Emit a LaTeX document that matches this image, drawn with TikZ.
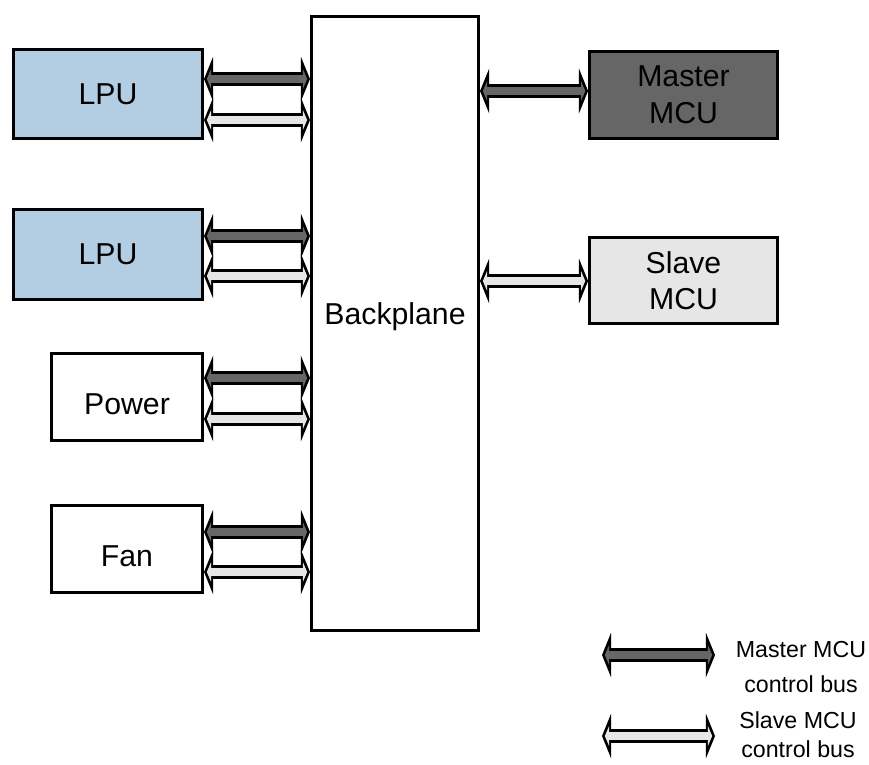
\documentclass[tikz,border=0pt]{standalone}
\usepackage{fontspec}
\setmainfont{Liberation Sans}
\usetikzlibrary{arrows.meta}
\definecolor{lpublue}{HTML}{B3CDE3}
\definecolor{masterfill}{HTML}{666666}
\definecolor{slavefill}{HTML}{E6E6E6}
\definecolor{busdark}{HTML}{666666}
\definecolor{buslight}{HTML}{E6E6E6}
\tikzset{
  unitbox/.style={draw=black,line width=2pt,align=center,inner sep=0pt,font=\fontsize{21.5}{26}\selectfont},
  bus/.style={line width=5.5pt,shorten <=2pt,shorten >=2pt,
    {Triangle[length=3pt,width=14pt,line width=0pt]}-{Triangle[length=3pt,width=14pt,line width=0pt]},
    preaction={draw=black,line width=10pt,shorten <=0pt,shorten >=0pt,
      {Triangle[length=6.5pt,width=32pt,line width=0pt]}-{Triangle[length=6.5pt,width=32pt,line width=0pt]}}},
  masterbus/.style={bus,draw=busdark},
  slavebus/.style={bus,draw=buslight},
  legendtext/.style={align=center,anchor=north,inner sep=0pt},
}
\begin{document}
\begin{tikzpicture}[x=0.025cm,y=-0.025cm]
  \useasboundingbox (0,0) rectangle (869,764);
  \node[unitbox,fill=lpublue,minimum width=4.73cm,minimum height=2.23cm] (lpuA) at (108,94) {LPU};
  \node[unitbox,fill=lpublue,minimum width=4.73cm,minimum height=2.25cm] (lpuB) at (108,254.5) {LPU};
  \node[unitbox,minimum width=3.78cm,minimum height=2.18cm,text height=25pt] (pwr) at (127,397) {Power};
  \node[unitbox,minimum width=3.78cm,minimum height=2.18cm,text height=25pt] (fan) at (127,549) {Fan};
  \node[unitbox,minimum width=4.18cm,minimum height=15.35cm,text depth=14pt] (bpl) at (395,323.5) {Backplane};
  \node[unitbox,fill=masterfill,minimum width=4.7cm,minimum height=2.18cm] (mst) at (683.5,95) {Master\\MCU};
  \node[unitbox,fill=slavefill,minimum width=4.7cm,minimum height=2.13cm] (slv) at (683.5,280.5) {Slave\\MCU};
  \foreach \u/\d/\l in {lpuA/79/120,lpuB/236/276,pwr/378/419,fan/532/572}{
    \draw[masterbus] (\u.east |- 0,\d) -- (bpl.west |- 0,\d);
    \draw[slavebus] (\u.east |- 0,\l) -- (bpl.west |- 0,\l);
  }
  \draw[masterbus] (bpl.east |- 0,91) -- (mst.west |- 0,91);
  \draw[slavebus] (bpl.east |- 0,281) -- (slv.west |- 0,281);
  \coordinate (mkA) at (602,655);
  \coordinate (mkB) at (715,655);
  \coordinate (skA) at (602,736);
  \coordinate (skB) at (715,736);
  \draw[masterbus] (mkA) -- (mkB);
  \draw[slavebus] (skA) -- (skB);
  \node[legendtext,font=\fontsize{16.5}{25}\selectfont] (mtxt) at (801,641) {Master MCU\\control bus};
  \node[legendtext,font=\fontsize{16.5}{21}\selectfont] (stxt) at (798,711) {Slave MCU\\control bus};
\end{tikzpicture}
\end{document}
